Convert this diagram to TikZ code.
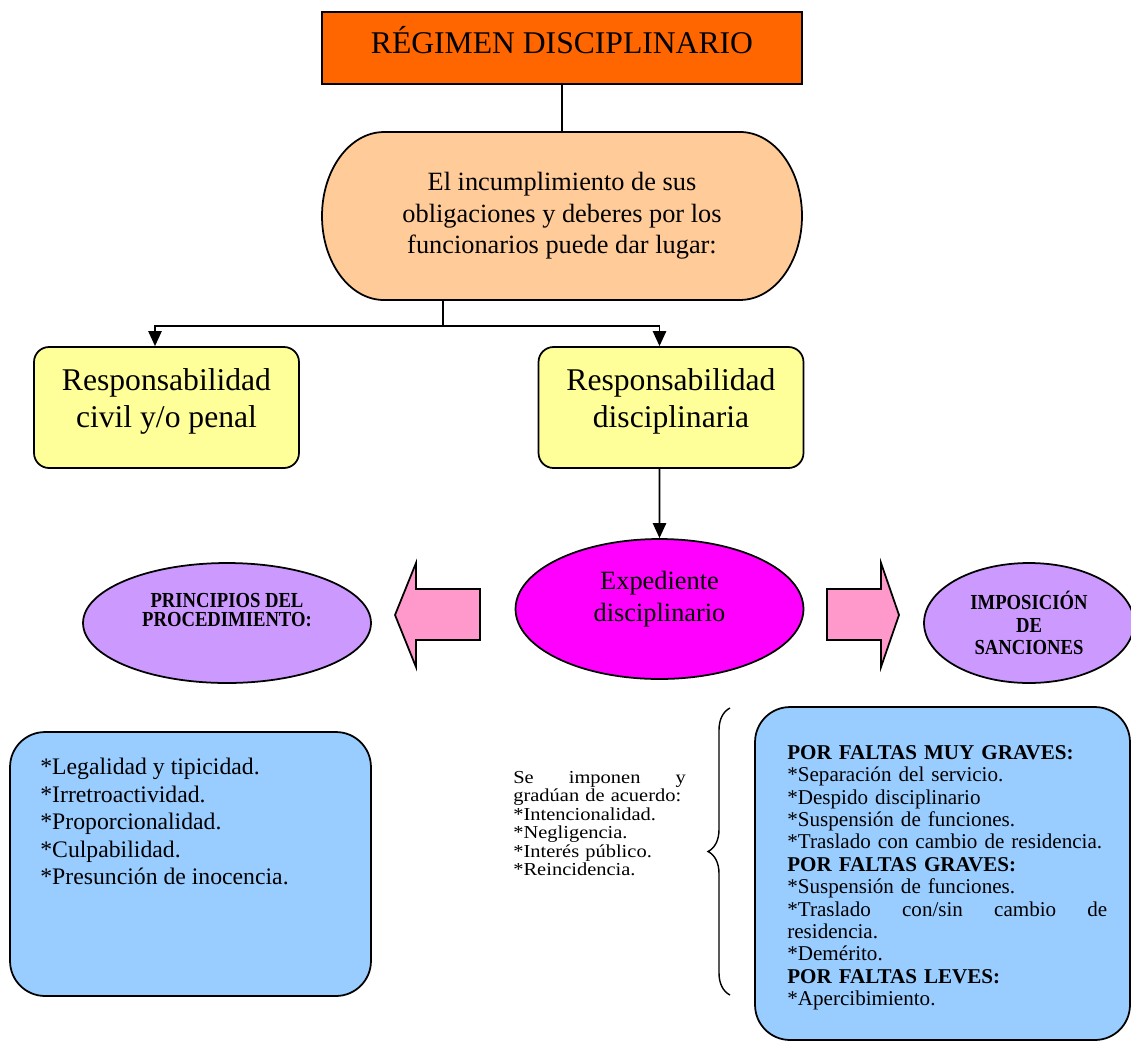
\documentclass[tikz,border=0pt]{standalone}
\usepackage{fontspec}
\setmainfont{Liberation Serif}
\newfontfamily\widefont[FakeStretch=1.12]{Liberation Serif}
\newfontfamily\narrowfont[FakeStretch=0.87]{Liberation Serif}
\usetikzlibrary{arrows.meta,shapes.geometric,positioning,decorations.pathreplacing}
\definecolor{titleorange}{RGB}{255,102,0}
\definecolor{peach}{RGB}{255,204,153}
\definecolor{paleyellow}{RGB}{255,255,153}
\definecolor{fuchsia}{RGB}{255,0,255}
\definecolor{lilac}{RGB}{204,153,255}
\definecolor{pinkarrow}{RGB}{255,153,204}
\definecolor{skyblue}{RGB}{153,204,255}

\begin{document}
\begin{tikzpicture}[x=0.02cm,y=-0.02cm,
  outline/.style={draw=black,line width=1pt},
  link/.style={line width=1pt,-{Triangle[width=7.5pt,length=8.5pt]}},
  resp/.style={outline,fill=paleyellow,rounded corners=0.3cm,minimum width=5.3cm,minimum height=2.42cm},
  resptext/.style={align=center,font=\fontsize{18}{21}\selectfont},
  oval/.style={outline,ellipse,fill=lilac,minimum height=2.4cm,inner sep=0pt,align=center,font=\narrowfont\fontsize{12.2}{13}\selectfont\bfseries},
  bluebox/.style={outline,fill=skyblue,rounded corners=0.7cm},
  listtext/.style={anchor=north west,inner sep=0pt,align=left},
  blockarrow/.style={outline,fill=pinkarrow}]
  \useasboundingbox (0,0) rectangle (1131,1041);
  % Title and cause
  \node[outline,fill=titleorange,minimum width=9.6cm,minimum height=1.44cm,
    text height=8pt,text depth=2.3pt,font=\fontsize{18}{21}\selectfont] (title) at (562,48) {RÉGIMEN DISCIPLINARIO};
  \draw[outline,fill=peach] (384,132) -- (740,132)
    arc[start angle=90,end angle=0,x radius=1.24cm,y radius=1.68cm]
    arc[start angle=0,end angle=-90,x radius=1.24cm,y radius=1.68cm] -- (384,300)
    arc[start angle=270,end angle=180,x radius=1.24cm,y radius=1.68cm]
    arc[start angle=180,end angle=90,x radius=1.24cm,y radius=1.68cm] -- cycle;
  \node[minimum width=9.6cm,minimum height=3.36cm,align=center,font=\fontsize{15}{17.9}\selectfont] (cause) at (562,216)
    {El incumplimiento de sus\\obligaciones y deberes por los\\funcionarios puede dar lugar:};
  \draw[line width=1pt] (title) -- (cause);
  % Two kinds of responsibility
  \node[resp] (civil) at (166.5,407.5) {};
  \node[resptext] (civil-text) at (166.5,401) {Responsabilidad\\civil y/o penal};
  \node[resp] (disc) at (671,407.5) {};
  \node[resptext] (disc-text) at (671,401) {Responsabilidad\\disciplinaria};
  \coordinate (fork) at (443,326);
  \draw[line width=1pt] (cause.south -| fork) -- (fork);
  \draw[link] (fork) -| ([xshift=-0.23cm]civil.north);
  \draw[link] (fork) -| ([xshift=-0.23cm]disc.north);
  % Expediente
  \node[outline,ellipse,fill=fuchsia,minimum width=5.76cm,minimum height=2.8cm] (exped) at (659.5,609) {};
  \node[align=center,font=\fontsize{15}{18.2}\selectfont] (exped-text) at (659.5,599) {Expediente\\disciplinario};
  \draw[link] ([xshift=-0.23cm]disc.south) -- (exped.north);
  % Side ovals and block arrows
  \node[oval,minimum width=5.76cm] (principles) at (227,623) {};
  \node[align=center,font=\narrowfont\fontsize{12.2}{10.8}\selectfont\bfseries] (principles-text) at (227,610) {PRINCIPIOS DEL\\PROCEDIMIENTO:};
  \node[oval,minimum width=4.2cm] (sanctions) at (1029,623) {IMPOSICIÓN\\DE\\SANCIONES};
  \draw[blockarrow] (480,589) -- (416,589) -- (416,563) -- (395,615) -- (416,667) -- (416,640) -- (480,640) -- cycle;
  \draw[blockarrow] (827,589) -- (881,589) -- (881,563) -- (899,615) -- (881,667) -- (881,640) -- (827,640) -- cycle;
  % Principles list
  \node[bluebox,minimum width=7.22cm,minimum height=5.28cm] (principles-box) at (190.5,864) {};
  \node[listtext,font=\fontsize{13.5}{15.65}\selectfont] (principles-items) at (40,758)
    {*Legalidad y tipicidad.\\{}*Irretroactividad.\\{}*Proporcionalidad.\\{}*Culpabilidad.\\{}*Presunción de inocencia.};
  % Grading criteria and brace
  \node[listtext,text width=3.45cm,font=\widefont\fontsize{10.4}{10.5}\selectfont] (criteria) at (513,771)
    {\lineskiplimit-10pt Se\hfill imponen\hfill y\\{}gradúan de acuerdo:\\{}*Intencionalidad.\\{}*Negligencia.\\{}*Interés público.\\{}*Reincidencia.};
  \coordinate (brace-top) at (730,708);
  \coordinate (brace-bot) at (730,995);
  \draw[line width=0.8pt,decorate,decoration={brace,amplitude=0.44cm}] (brace-bot) -- (brace-top);
  % Sanctions list
  \node[bluebox,minimum width=7.5cm,minimum height=6.66cm] (sanctions-box) at (942.5,873.5) {};
  \node[listtext,text width=6.4cm,font=\fontsize{12}{12.75}\selectfont] (sanctions-items) at (787,745)
    {\textbf{POR FALTAS MUY GRAVES:}\\{}*Separación del servicio.\\{}*Despido disciplinario\\{}*Suspensión de funciones.\\{}*Traslado con cambio de residencia.\\
     \textbf{POR FALTAS GRAVES:}\\{}*Suspensión de funciones.\\{}*Traslado\hfill con/sin\hfill cambio\hfill de\\{}residencia.\\{}*Demérito.\\
     \textbf{POR FALTAS LEVES:}\\{}*Apercibimiento.};
\end{tikzpicture}
\end{document}
